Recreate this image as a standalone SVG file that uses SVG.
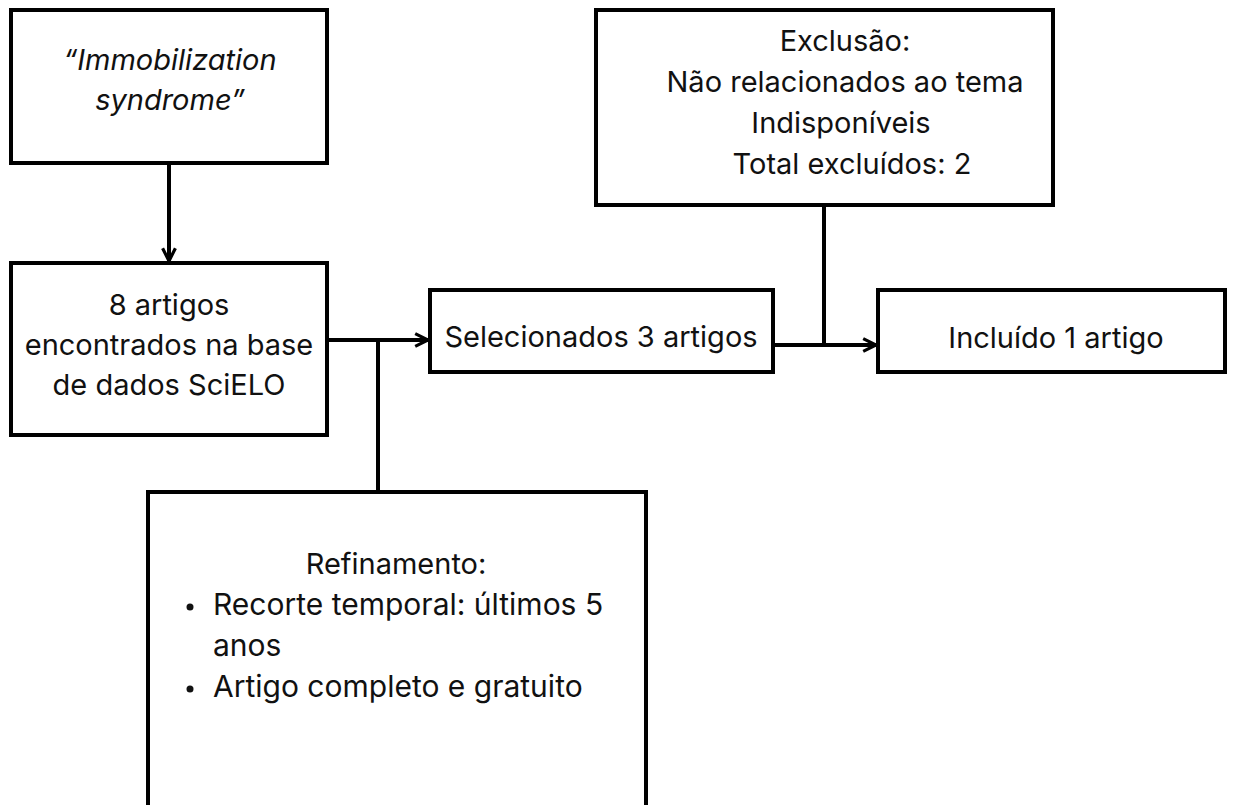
<svg xmlns="http://www.w3.org/2000/svg" width="1237" height="805" viewBox="0 0 1237 805">
<defs>
<style>
.box{fill:#fff;stroke:#000;stroke-width:4}
.t{font-family:Inter,"Noto Sans",sans-serif;font-size:29px;fill:#111;text-anchor:middle}
.l{font-family:Inter,"Noto Sans",sans-serif;font-size:30px;fill:#111}
.c{fill:none;stroke:#000;stroke-width:4}
</style>
<marker id="ah" viewBox="0 0 10 10" refX="9" refY="5" markerWidth="4" markerHeight="4" orient="auto" markerUnits="strokeWidth">
<path d="M1,1 L9,5 L1,9" fill="none" stroke="#000" stroke-width="2"/>
</marker>
</defs>
<rect width="1237" height="805" fill="#fff"/>
<g id="connectors">
<line class="c" x1="169" y1="163" x2="169" y2="261" marker-end="url(#ah)"/>
<line class="c" x1="327" y1="340" x2="428" y2="340" marker-end="url(#ah)"/>
<line class="c" x1="378" y1="340" x2="378" y2="492"/>
<line class="c" x1="773" y1="345" x2="876" y2="345" marker-end="url(#ah)"/>
<line class="c" x1="824" y1="205" x2="824" y2="345"/>
</g>
<g id="n1">
<rect class="box" x="11" y="10" width="316" height="153"/>
<text class="t" font-style="italic" x="170" y="70">“Immobilization</text>
<text class="t" font-style="italic" x="170" y="110">syndrome”</text>
</g>
<g id="n2">
<rect class="box" x="11" y="263" width="316" height="172"/>
<text class="t" x="169" y="315">8 artigos</text>
<text class="t" x="169" y="355">encontrados na base</text>
<text class="t" x="169" y="395">de dados SciELO</text>
</g>
<g id="n3">
<rect class="box" x="430" y="290" width="343" height="82"/>
<text class="t" x="601" y="347">Selecionados 3 artigos</text>
</g>
<g id="n4">
<rect class="box" x="596" y="10" width="457" height="195"/>
<text class="t" x="845" y="51">Exclusão:</text>
<text class="t" x="845" y="92">Não relacionados ao tema</text>
<text class="t" x="841" y="133">Indisponíveis</text>
<text class="t" x="852" y="174">Total excluídos: 2</text>
</g>
<g id="n5">
<rect class="box" x="878" y="290" width="347" height="82"/>
<text class="t" x="1056" y="348">Incluído 1 artigo</text>
</g>
<g id="n6">
<rect class="box" x="148" y="492" width="498" height="315"/>
<text class="t" x="396" y="574">Refinamento:</text>
<circle cx="190" cy="607" r="3.5" fill="#111"/>
<text class="l" x="213" y="615">Recorte temporal: últimos 5</text>
<text class="l" x="213" y="656">anos</text>
<circle cx="190" cy="689" r="3.5" fill="#111"/>
<text class="l" x="213" y="697">Artigo completo e gratuito</text>
</g>
</svg>
